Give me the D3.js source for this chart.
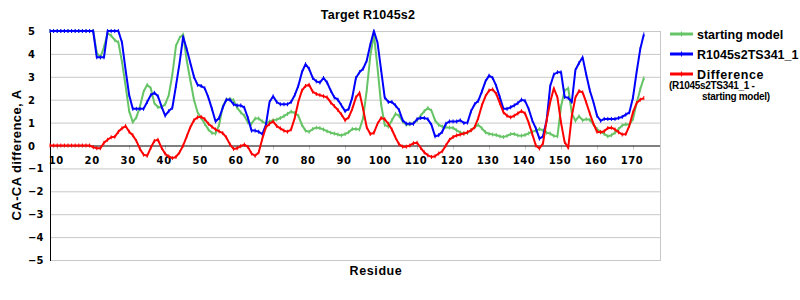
<!DOCTYPE html>
<html>
<head>
<meta charset="utf-8">
<script src="https://cdn.jsdelivr.net/npm/d3@7"></script>
<style>
body { margin: 0; background: #fff; }
svg { display: block; }
text { font-family: "Liberation Sans", Arial, sans-serif; font-weight: bold; fill: #000; }
.tick-lab { font-family: "DejaVu Sans", Verdana, sans-serif; font-size: 10px; }
</style>
</head>
<body>
<svg class="chart"></svg>
<script>
// residue numbers (first residue 8, last 173)
var firstResidue = 8;

// starting model, CA-CA difference (A)
var startingModel = [
	5, 5, 5, 5, 5, 5, 5, 5, 5, 5,
	5, 5, 5, 4.05, 3.85, 4.3, 4.9, 4.8, 4.6, 4.5,
	3.65, 2.6, 1.5, 1.02, 1.23, 1.7, 2.35, 2.65, 2.5, 1.85,
	1.67, 1.67, 1.8, 2.2, 3.1, 4.35, 4.7, 4.85, 3.7, 2.85,
	2.0, 1.45, 1.2, 0.95, 0.7, 0.55, 0.52, 0.9, 1.7, 2.0,
	2.03, 1.98, 1.65, 1.45, 1.3, 1.0, 0.95, 1.18, 1.18, 1.05,
	0.95, 1.05, 1.1, 1.13, 1.2, 1.28, 1.38, 1.48, 1.42, 1.3,
	0.9, 0.65, 0.6, 0.72, 0.78, 0.76, 0.7, 0.62, 0.56, 0.52,
	0.48, 0.44, 0.5, 0.58, 0.72, 0.72, 0.7, 1.2, 2.4, 3.9,
	4.86, 3.4, 1.8, 0.9, 0.82, 1.1, 1.38, 1.3, 1.05, 0.91,
	0.93, 0.98, 1.1, 1.3, 1.5, 1.64, 1.52, 1.1, 0.9, 0.83,
	0.8, 0.78, 0.77, 0.66, 0.57, 0.53, 0.55, 0.68, 0.8, 0.9,
	0.75, 0.58, 0.51, 0.48, 0.46, 0.4, 0.37, 0.42, 0.5, 0.5,
	0.44, 0.43, 0.46, 0.53, 0.6, 0.65, 0.72, 0.66, 0.56, 0.52,
	0.42, 0.4, 1.7, 2.4, 2.5, 1.4, 1.08, 1.28, 1.1, 1.15,
	1.12, 0.92, 0.72, 0.6, 0.51, 0.4, 0.45, 0.56, 0.72, 0.88,
	0.93, 0.91, 1.16, 1.85, 2.45, 2.94
];

// R1045s2TS341_1
var model341 = [
	5, 5, 5, 5, 5, 5, 5, 5, 5, 5,
	5, 5, 5, 3.85, 3.85, 3.85, 5, 5, 5, 5,
	4.5, 3.3, 2.2, 1.6, 1.6, 1.6, 1.6, 1.9, 2.2, 2.3,
	2.15, 1.7, 1.3, 1.5, 1.65, 2.6, 3.6, 4.75, 4.2, 3.6,
	3.0, 2.65, 2.6, 2.5, 2.1, 1.6, 1.05, 1.2, 1.65, 2.0,
	2.0, 1.8, 1.75, 1.75, 1.65, 1.2, 0.65, 0.65, 0.6, 0.5,
	0.9, 1.9, 2.15, 1.9, 1.8, 1.8, 1.8, 1.9, 2.2, 2.6,
	3.2, 3.55, 3.35, 2.95, 2.8, 2.75, 2.95, 2.75, 2.4, 2.1,
	2.0, 1.75, 1.5, 1.6, 2.1, 2.95, 3.2, 3.35, 3.7, 4.4,
	5.0, 4.5, 3.3, 2.1, 1.9, 1.9, 1.75, 1.55, 1.1, 0.95,
	0.95, 0.95, 1.15, 1.2, 1.2, 1.15, 0.9, 0.4, 0.45, 0.6,
	0.95, 1.05, 1.05, 1.05, 1.1, 0.98, 1.0, 1.5, 1.8, 1.95,
	2.35, 2.8, 3.05, 2.95, 2.6, 2.1, 1.6, 1.6, 1.67, 1.75,
	1.85, 2.0, 1.95, 1.6, 1.1, 0.75, 0.3, 0.4, 1.1, 2.6,
	3.1, 3.2, 3.2, 2.12, 2.08, 1.9, 3.3, 3.6, 3.85, 3.1,
	2.4, 1.9, 1.3, 1.08, 1.16, 1.16, 1.16, 1.16, 1.2, 1.25,
	1.35, 1.45, 2.1, 3.2, 4.2, 4.85
];

// Difference (R1045s2TS341_1 - starting model)
var difference = [
	0, 0, 0, 0, 0, 0, 0, 0, 0, 0,
	0, 0, -0.07, -0.12, -0.12, 0.12, 0.25, 0.36, 0.38, 0.6,
	0.75, 0.85, 0.6, 0.45, 0.2, -0.15, -0.4, -0.45, -0.1, 0.2,
	0.25, -0.1, -0.36, -0.48, -0.55, -0.5, -0.3, 0.0, 0.4, 0.8,
	1.1, 1.23, 1.25, 1.15, 0.95, 0.82, 0.7, 0.62, 0.54, 0.35,
	0.05, -0.15, -0.12, -0.03, 0.04, -0.06, -0.35, -0.45, -0.3, 0.3,
	0.8, 0.95, 1.05, 0.85, 0.75, 0.65, 0.6, 0.7, 1.2, 1.9,
	2.4, 2.6, 2.65, 2.35, 2.25, 2.2, 2.15, 2.1, 1.88, 1.72,
	1.55, 1.35, 1.1, 1.23, 1.6, 2.1, 2.3, 1.6, 0.8, 0.5,
	0.55, 0.95, 1.2, 1.15, 0.95, 0.7, 0.35, 0.05, -0.05, -0.05,
	0.0, 0.1, 0.12, -0.1, -0.3, -0.43, -0.5, -0.47, -0.35, -0.25,
	0.0, 0.25, 0.37, 0.44, 0.48, 0.52, 0.58, 0.66, 0.8, 1.2,
	1.75, 2.15, 2.4, 2.45, 2.25, 1.85, 1.45, 1.3, 1.23, 1.3,
	1.4, 1.5, 1.4, 1.0, 0.5, 0.0, -0.13, 0.1, 1.1, 1.9,
	2.5, 2.1, 1.0, 0.15, -0.1, 1.3, 2.1, 2.38, 2.32, 1.88,
	1.4, 0.95, 0.6, 0.58, 0.62, 0.76, 0.78, 0.7, 0.58, 0.48,
	0.5, 0.87, 1.45, 1.85, 2.0, 2.07
];

var xTicks = [10, 20, 30, 40, 50, 60, 70, 80, 90, 100, 110, 120, 130, 140, 150, 160, 170];
var yTicks = [5, 4, 3, 2, 1, 0, -1, -2, -3, -4, -5];

var seriesNames = ["starting model", "R1045s2TS341_1", "Difference"];
var seriesColors = ["#66c466", "#0000ff", "#ff0000"];

// plot box (window.top is read-only, so no plain "top")
var plotLeft = 50, plotRight = 660, plotTop = 31, plotBottom = 260;

var svg = d3.select(".chart")
	.attr("width", 800)
	.attr("height", 300);

var x = d3.scaleLinear().domain([8, 177.5]).range([plotLeft, plotRight]);
var y = d3.scaleLinear().domain([-5, 5]).range([plotBottom, plotTop]);

// grid lines
svg.append("g").selectAll("line")
	.data(yTicks.filter(function(d) { return d != 0; }))
	.enter().append("line")
		.attr("x1", plotLeft).attr("x2", plotRight)
		.attr("y1", function(d) { return y(d) + 0.5; })
		.attr("y2", function(d) { return y(d) + 0.5; })
		.attr("stroke", "#c8c8c8");

// right border
svg.append("line")
	.attr("x1", plotRight + 0.5).attr("x2", plotRight + 0.5)
	.attr("y1", plotTop).attr("y2", plotBottom + 1)
	.attr("stroke", "#c8c8c8");

// x ticks on the zero line
svg.append("g").selectAll("line")
	.data(xTicks)
	.enter().append("line")
		.attr("x1", function(d) { return Math.round(x(d)) + 0.5; })
		.attr("x2", function(d) { return Math.round(x(d)) + 0.5; })
		.attr("y1", y(0)).attr("y2", y(0) + 4)
		.attr("stroke", "#c8c8c8");

// zero line and left axis
svg.append("line")
	.attr("x1", plotLeft).attr("x2", plotRight)
	.attr("y1", y(0) + 0.5).attr("y2", y(0) + 0.5)
	.attr("stroke", "#000");
svg.append("line")
	.attr("x1", plotLeft + 0.5).attr("x2", plotLeft + 0.5)
	.attr("y1", plotTop).attr("y2", plotBottom + 1)
	.attr("stroke", "#000");

// tick labels
svg.append("g").selectAll("text")
	.data(xTicks)
	.enter().append("text")
		.attr("class", "tick-lab")
		.attr("x", function(d) { return x(d) - 1; })
		.attr("y", y(0) + 18)
		.attr("text-anchor", "middle")
		.style("letter-spacing", "0.6px")
		.text(function(d) { return d; });

svg.append("g").selectAll("text")
	.data(yTicks)
	.enter().append("text")
		.attr("class", "tick-lab")
		.attr("x", 28)
		.attr("y", function(d) { return y(d) + 4; })
		.text(function(d) { return d < 0 ? "\u2212" + (-d) : d; });

// series
var series = [startingModel, model341, difference];
var line = d3.line()
	.x(function(d, i) { return x(firstResidue + i); })
	.y(function(d) { return y(d); });

series.forEach(function(values, k) {
	svg.append("path")
		.datum(values)
		.attr("fill", "none")
		.attr("stroke", seriesColors[k])
		.attr("stroke-width", 2)
		.attr("stroke-linejoin", "round")
		.attr("d", line);
	// small point markers
	svg.append("g").selectAll("line")
		.data(values)
		.enter().append("line")
			.attr("x1", function(d, i) { return x(firstResidue + i); })
			.attr("x2", function(d, i) { return x(firstResidue + i); })
			.attr("y1", function(d) { return y(d) - 2; })
			.attr("y2", function(d) { return y(d) + 2; })
			.attr("stroke", seriesColors[k])
			.attr("stroke-width", 1);
});

// title and axis labels
svg.append("text")
	.attr("x", 368).attr("y", 19)
	.attr("text-anchor", "middle")
	.style("font-size", "12.5px")
	.style("letter-spacing", "0.2px")
	.text("Target R1045s2");

svg.append("text")
	.attr("transform", "translate(21,155) rotate(-90)")
	.attr("text-anchor", "middle")
	.style("font-size", "13px")
	.style("letter-spacing", "0.4px")
	.text("CA-CA difference, A");

svg.append("text")
	.attr("x", 376).attr("y", 275)
	.attr("text-anchor", "middle")
	.style("font-size", "12.5px")
	.style("letter-spacing", "0.6px")
	.text("Residue");

// legend
var legendY = [34, 54, 74];
var legend = svg.append("g");
seriesNames.forEach(function(name, k) {
	legend.append("line")
		.attr("x1", 670).attr("x2", 693)
		.attr("y1", legendY[k]).attr("y2", legendY[k])
		.attr("stroke", seriesColors[k])
		.attr("stroke-width", 3);
	legend.append("line")
		.attr("x1", 681.5).attr("x2", 681.5)
		.attr("y1", legendY[k] - 2.5).attr("y2", legendY[k] + 2.5)
		.attr("stroke", seriesColors[k]);
	legend.append("text")
		.attr("x", 697).attr("y", legendY[k] + 4.5)
		.style("font-size", "12.5px")
		.style("letter-spacing", k == 2 ? "0.6px" : "0px")
		.text(name);
});
legend.append("text")
	.attr("x", 669).attr("y", 89)
	.style("font-size", "10px")
	.style("letter-spacing", "-0.3px")
	.text("(R1045s2TS341_1 -");
legend.append("text")
	.attr("x", 702).attr("y", 100)
	.style("font-size", "10px")
	.style("letter-spacing", "-0.3px")
	.text("starting model)");
</script>
</body>
</html>
